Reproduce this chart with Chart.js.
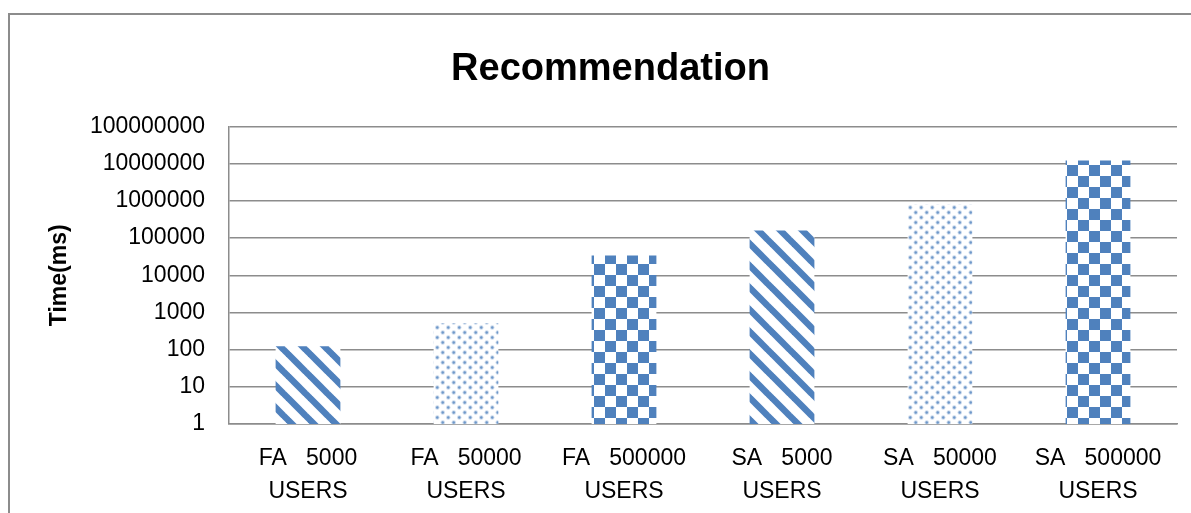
<!DOCTYPE html>
<html>
<head>
    <meta charset="UTF-8">
    <title>Recommendation</title>
    <script src="https://cdn.jsdelivr.net/npm/chart.js"></script>
    <style>
        html, body { margin: 0; padding: 0; background: #fff; }
        .chart-container { width: 1191px; height: 513px; }
    </style>
</head>
<body>
    <div class="chart-container">
        <canvas id="recChart"></canvas>
    </div>
    <script>
        // data
        const categories = [
            ['FA   5000', 'USERS'],
            ['FA   50000', 'USERS'],
            ['FA   500000', 'USERS'],
            ['SA   5000', 'USERS'],
            ['SA   50000', 'USERS'],
            ['SA   500000', 'USERS']
        ];
        const timeMs = [124, 516, 34000, 160000, 800000, 12200000];
        const yTicks = [1, 10, 100, 1000, 10000, 100000, 1000000, 10000000, 100000000];
        const patternKinds = ['stripe', 'dots', 'check', 'stripe', 'dots', 'check'];

        const BLUE = '#4f81bd';

        // bar fills: white ground with blue pattern on top
        function makePattern(kind) {
            const c = document.createElement('canvas');
            const g = c.getContext('2d');
            if (kind === 'stripe') {
                const s = 22;
                c.width = s; c.height = s;
                g.fillStyle = '#fff';
                g.fillRect(0, 0, s, s);
                g.strokeStyle = BLUE;
                g.lineWidth = 6.5;
                for (let k = -1; k <= 1; k++) {
                    g.beginPath();
                    g.moveTo(k * s - 2, -2);
                    g.lineTo(k * s + s + 2, s + 2);
                    g.stroke();
                }
            } else if (kind === 'dots') {
                c.width = 11; c.height = 10;
                g.fillStyle = '#fff';
                g.fillRect(0, 0, 11, 10);
                const pts = [[2.75, 2.5], [8.25, 7.5]];
                pts.forEach(p => {
                    g.fillStyle = 'rgba(79,129,189,0.3)';
                    g.beginPath(); g.arc(p[0], p[1], 2.2, 0, Math.PI * 2); g.fill();
                    g.fillStyle = 'rgba(79,129,189,0.75)';
                    g.beginPath(); g.arc(p[0], p[1], 1.2, 0, Math.PI * 2); g.fill();
                });
            } else {
                const q = 11;
                c.width = q * 2; c.height = q * 2;
                g.fillStyle = '#fff';
                g.fillRect(0, 0, q * 2, q * 2);
                g.fillStyle = BLUE;
                g.fillRect(0, 0, q, q);
                g.fillRect(q, q, q, q);
            }
            return g.createPattern(c, 'repeat');
        }

        const fills = patternKinds.map(makePattern);

        // outer frame of the chart object
        const framePlugin = {
            id: 'frame',
            beforeDraw(chart) {
                const ctx = chart.ctx;
                ctx.save();
                ctx.strokeStyle = '#8c8c8c';
                ctx.lineWidth = 2;
                ctx.strokeRect(9, 14, 1300, 700);
                ctx.restore();
            }
        };

        new Chart(document.getElementById('recChart'), {
            type: 'bar',
            data: {
                labels: categories,
                datasets: [{
                    data: timeMs,
                    backgroundColor: fills,
                    borderWidth: 0,
                    barPercentage: 0.41,
                    categoryPercentage: 1.0
                }]
            },
            options: {
                responsive: true,
                maintainAspectRatio: false,
                animation: false,
                layout: { padding: { left: 44, right: 14, top: 0, bottom: 0 } },
                plugins: {
                    legend: { display: false },
                    tooltip: { enabled: false },
                    title: {
                        display: true,
                        text: 'Recommendation',
                        color: '#000',
                        font: { family: 'Liberation Sans', size: 38, weight: 'bold', lineHeight: 1.2 },
                        padding: { top: 47, bottom: 34 }
                    }
                },
                scales: {
                    x: {
                        grid: { display: false, drawTicks: false },
                        border: { display: true, color: '#8c8c8c', width: 1.5 },
                        ticks: {
                            color: '#000',
                            padding: 19,
                            maxRotation: 0,
                            autoSkip: false,
                            font: { family: 'Liberation Sans', size: 23, lineHeight: 1.4 }
                        },
                        afterFit(scale) { scale.height = 89; }
                    },
                    y: {
                        type: 'logarithmic',
                        min: 1,
                        max: 100000000,
                        grid: { color: '#8c8c8c', lineWidth: 1.5, drawTicks: false },
                        border: { display: true, color: '#8c8c8c', width: 1.5 },
                        ticks: {
                            color: '#000',
                            padding: 24,
                            font: { family: 'Liberation Sans', size: 23 },
                            callback: v => String(v)
                        },
                        afterBuildTicks(scale) {
                            scale.ticks = yTicks.map(v => ({ value: v }));
                        },
                        title: {
                            display: true,
                            text: 'Time(ms)',
                            color: '#000',
                            font: { family: 'Liberation Sans', size: 23, weight: 'bold' },
                            padding: { top: 2, bottom: 0 }
                        },
                        afterFit(scale) { scale.width = 185; }
                    }
                }
            },
            plugins: [framePlugin]
        });
    </script>
</body>
</html>
